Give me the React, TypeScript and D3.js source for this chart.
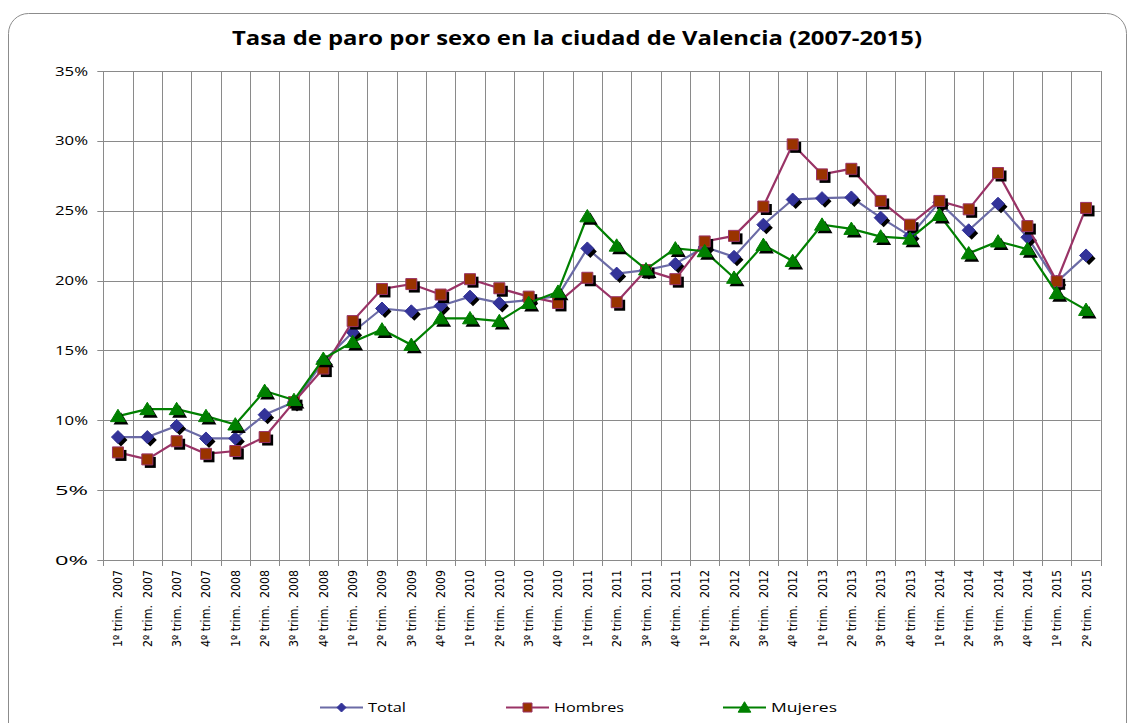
import React, { Component } from 'react'
import * as d3 from 'd3'

// quarters shown on the x axis
const periods = [
  '1º trim.  2007', '2º trim.  2007', '3º trim.  2007', '4º trim.  2007',
  '1º trim.  2008', '2º trim.  2008', '3º trim.  2008', '4º trim.  2008',
  '1º trim.  2009', '2º trim.  2009', '3º trim.  2009', '4º trim.  2009',
  '1º trim.  2010', '2º trim.  2010', '3º trim.  2010', '4º trim.  2010',
  '1º trim.  2011', '2º trim.  2011', '3º trim.  2011', '4º trim.  2011',
  '1º trim.  2012', '2º trim.  2012', '3º trim.  2012', '4º trim.  2012',
  '1º trim.  2013', '2º trim.  2013', '3º trim.  2013', '4º trim.  2013',
  '1º trim.  2014', '2º trim.  2014', '3º trim.  2014', '4º trim.  2014',
  '1º trim.  2015', '2º trim.  2015'
]

// unemployment rate, %
const total = [
  8.8, 8.8, 9.6, 8.7, 8.7, 10.4, 11.3, 14.2,
  16.3, 18.0, 17.8, 18.2, 18.85, 18.4, 18.6, 18.9,
  22.3, 20.5, 20.75, 21.2, 22.4, 21.7, 24.0, 25.8,
  25.9, 25.95, 24.5, 23.2, 25.6, 23.6, 25.5, 23.1,
  19.9, 21.8
]
const hombres = [
  7.7, 7.2, 8.5, 7.6, 7.8, 8.8, 11.3, 13.7,
  17.1, 19.4, 19.75, 19.0, 20.1, 19.45, 18.85, 18.4,
  20.2, 18.45, 20.75, 20.1, 22.8, 23.2, 25.3, 29.75,
  27.6, 28.0, 25.7, 24.0, 25.7, 25.1, 27.7, 23.9,
  19.95, 25.2
]
const mujeres = [
  10.3, 10.8, 10.8, 10.3, 9.7, 12.1, 11.45, 14.4,
  15.6, 16.5, 15.4, 17.3, 17.3, 17.1, 18.4, 19.2,
  24.6, 22.5, 20.8, 22.3, 22.1, 20.2, 22.55, 21.4,
  24.0, 23.7, 23.15, 23.0, 24.7, 21.95, 22.8, 22.25,
  19.1, 17.9
]
const yTicks = [0, 5, 10, 15, 20, 25, 30, 35]

const seriesList = [
  { name: 'Total', values: total, line: '#6b6ba6', fill: '#333399', marker: 'diamond' },
  { name: 'Hombres', values: hombres, line: '#993366', fill: '#993300', marker: 'square' },
  { name: 'Mujeres', values: mujeres, line: '#008000', fill: '#008000', marker: 'triangle' }
]

class App extends Component {
  node: SVGSVGElement | null = null

  componentDidMount() {
    this.createLineChart()
  }

  createLineChart() {
    const svg = d3.select(this.node)
    svg.selectAll('*').remove()

    const width = 1134, height = 723
    const left = 103.3, right = 1100.7, top = 71, bottom = 560
    const font = 'Open Sans, DejaVu Sans, sans-serif'

    const x = d3.scaleBand().domain(periods).range([left, right])
    const y = d3.scaleLinear().domain([0, 35]).range([bottom, top])
    const cx = (i: number) => x(periods[i])! + x.bandwidth() / 2

    svg.attr('width', width).attr('height', height)

    // frame
    svg.append('rect')
      .attr('x', 8.5).attr('y', 13.5)
      .attr('width', 1118).attr('height', 730)
      .attr('rx', 20)
      .style('fill', '#fff')
      .style('stroke', '#8c8c8c')
      .style('stroke-width', 1)

    svg.append('text')
      .text('Tasa de paro por sexo en la ciudad de Valencia (2007-2015)')
      .attr('x', 232).attr('y', 45)
      .attr('textLength', 690)
      .attr('lengthAdjust', 'spacingAndGlyphs')
      .style('font-family', font)
      .style('font-weight', 'bold')
      .style('font-size', '19px')
      .style('fill', '#000')

    const grid = svg.append('g')
    grid.selectAll('line.h')
      .data(yTicks)
      .enter().append('line')
      .attr('x1', left - 6).attr('x2', right)
      .attr('y1', d => Math.round(y(d)) + 0.5).attr('y2', d => Math.round(y(d)) + 0.5)
      .style('stroke', '#8a8a8a')
    const bounds = d3.range(periods.length + 1).map(i => left + i * x.bandwidth())
    grid.selectAll('line.v')
      .data(bounds)
      .enter().append('line')
      .attr('x1', d => Math.round(d) + 0.5).attr('x2', d => Math.round(d) + 0.5)
      .attr('y1', top).attr('y2', bottom + 6)
      .style('stroke', '#8a8a8a')

    svg.append('g').selectAll('text')
      .data(yTicks)
      .enter().append('text')
      .text(d => d + '%')
      .attr('x', 55).attr('y', d => y(d) + 4.5)
      .attr('textLength', 33)
      .attr('lengthAdjust', 'spacingAndGlyphs')
      .style('font-family', font)
      .style('font-size', '12px')
      .style('fill', '#000')

    svg.append('g').selectAll('text')
      .data(periods)
      .enter().append('text')
      .text(d => d)
      .attr('transform', (d, i) => `translate(${cx(i) + 4.5},570) rotate(-90)`)
      .attr('text-anchor', 'end')
      .attr('textLength', 77)
      .attr('lengthAdjust', 'spacingAndGlyphs')
      .style('white-space', 'pre')
      .style('font-family', 'DejaVu Sans Condensed, DejaVu Sans, sans-serif')
      .style('font-size', '12px')
      .style('fill', '#000')

    const line = d3.line<number>()
      .x((d, i) => cx(i))
      .y(d => y(d))

    const markerPath = (kind: string, s: number) => {
      if (kind === 'diamond') return `M0,${-s}L${s},0L0,${s}L${-s},0Z`
      if (kind === 'square') return `M${-s},${-s}H${s}V${s}H${-s}Z`
      return `M0,${-s * 1.05}L${s * 1.15},${s * 0.85}L${-s * 1.15},${s * 0.85}Z`
    }
    const markerSize: any = { diamond: 6.5, square: 5.5, triangle: 6.5 }

    seriesList.forEach(s => {
      const g = svg.append('g')
      g.append('path')
        .attr('d', line(s.values))
        .style('fill', 'none')
        .style('stroke', s.line)
        .style('stroke-width', 2.2)
      const pts = g.selectAll('g.pt')
        .data(s.values)
        .enter().append('g')
        .attr('transform', (d, i) => `translate(${cx(i)},${y(d)})`)
      pts.append('path')
        .attr('d', markerPath(s.marker, markerSize[s.marker]))
        .attr('transform', 'translate(3,3)')
        .style('fill', '#000')
      pts.append('path')
        .attr('d', markerPath(s.marker, markerSize[s.marker]))
        .style('fill', s.fill)
        .style('stroke', s.marker === 'square' ? s.line : s.fill)
        .style('stroke-width', 1)
    })

    // legend
    const legendX = [320, 506, 723]
    const legendW = [38, 70, 66]
    seriesList.forEach((s, k) => {
      const g = svg.append('g').attr('transform', `translate(${legendX[k]},707.5)`)
      g.append('line')
        .attr('x1', 0).attr('x2', 43)
        .style('stroke', s.line)
        .style('stroke-width', 2.2)
      g.append('path')
        .attr('d', markerPath(s.marker, s.marker === 'triangle' ? 5.5 : 4.5))
        .attr('transform', 'translate(21.5,0)')
        .style('fill', s.fill)
        .style('stroke', s.marker === 'square' ? s.line : s.fill)
      g.append('text')
        .text(s.name)
        .attr('x', 48).attr('y', 4.5)
        .attr('textLength', legendW[k])
        .attr('lengthAdjust', 'spacingAndGlyphs')
        .style('font-family', font)
        .style('font-size', '12px')
        .style('fill', '#000')
    })
  }

  render() {
    return <svg ref={node => { this.node = node }}
      style={{ position: 'absolute', left: 0, top: 0, display: 'block' }}>
    </svg>
  }
}

export default App
